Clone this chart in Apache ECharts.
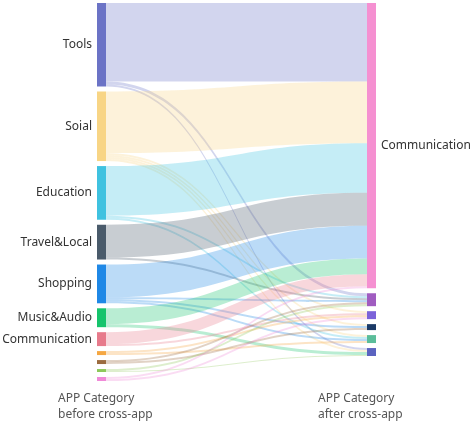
<!DOCTYPE html><html><head><meta charset="utf-8"><script src="https://cdn.jsdelivr.net/npm/echarts@6/dist/echarts.min.js"></script>
<style>html,body{margin:0;padding:0;background:#fff}#c{width:474px;height:423px}</style></head><body><div id="c"></div><script>
const leftNodes=['Tools','Soial','Education','Travel&Local','Shopping','Music&Audio','Communication','Other1','Other2','Other3','Other4'];
const leftColors=['#6b73c6','#f8d585','#3fc2e0','#4a5b6b','#1f88e6','#16c46c','#e77a8b','#f5a742','#9b6b3f','#8dc85a','#f08ad8'];
const rightNodes=['Communication ','Target A','Target B','Target C','Target D','Target E'];
const rightColors=['#f590d1','#a05cc0','#7b62d9','#1b3a66','#5bbd9a','#5b63c0'];
const links=[
['Tools','Communication ',79],['Tools','Target A',3],['Tools','Target E',2],
['Soial','Communication ',62],['Soial','Target B',2],['Soial','Target C',2],['Soial','Target D',2],['Soial','Target E',2],
['Education','Communication ',50],['Education','Target A',2],['Education','Target D',2],
['Travel&Local','Communication ',33],['Travel&Local','Target A',2],
['Shopping','Communication ',33],['Shopping','Target A',2],['Shopping','Target C',2],['Shopping','Target D',2],
['Music&Audio','Communication ',16],['Music&Audio','Target E',3],
['Communication','Communication ',12],['Communication','Target B',2],
['Other1','Target B',2],['Other1','Target D',2],['Other2','Target C',2],['Other2','Target A',2],['Other3','Target A',2],['Other3','Target E',1],['Other4','Target B',2],['Other4','Communication ',2]
];
const data=leftNodes.map((n,i)=>({name:n,depth:0,itemStyle:{color:leftColors[i]},label:{show:i<7,position:'left'}}))
.concat(rightNodes.map((n,i)=>({name:n,depth:1,itemStyle:{color:rightColors[i]},label:{show:i===0,position:'right',formatter:'Communication'}})));
const c=echarts.init(document.getElementById('c'));
c.setOption({animation:false,
graphic:[{type:'text',left:58,top:391,style:{text:'APP Category\nbefore cross-app',align:'center',fill:'#555',font:'12px "Noto Sans"',lineHeight:16}},
{type:'text',left:318,top:391,style:{text:'APP Category\nafter cross-app',align:'center',fill:'#555',font:'12px "Noto Sans"',lineHeight:16}}],
series:[{type:'sankey',left:97,right:98,top:3,bottom:42,nodeWidth:9,nodeGap:5,layoutIterations:0,draggable:false,
data:data,links:links.map(l=>({source:l[0],target:l[1],value:l[2]})),
label:{color:'#333',fontSize:12,fontFamily:'Noto Sans'},
lineStyle:{color:'source',opacity:0.3,curveness:0.5},emphasis:{disabled:true}}]});
</script></body></html>
